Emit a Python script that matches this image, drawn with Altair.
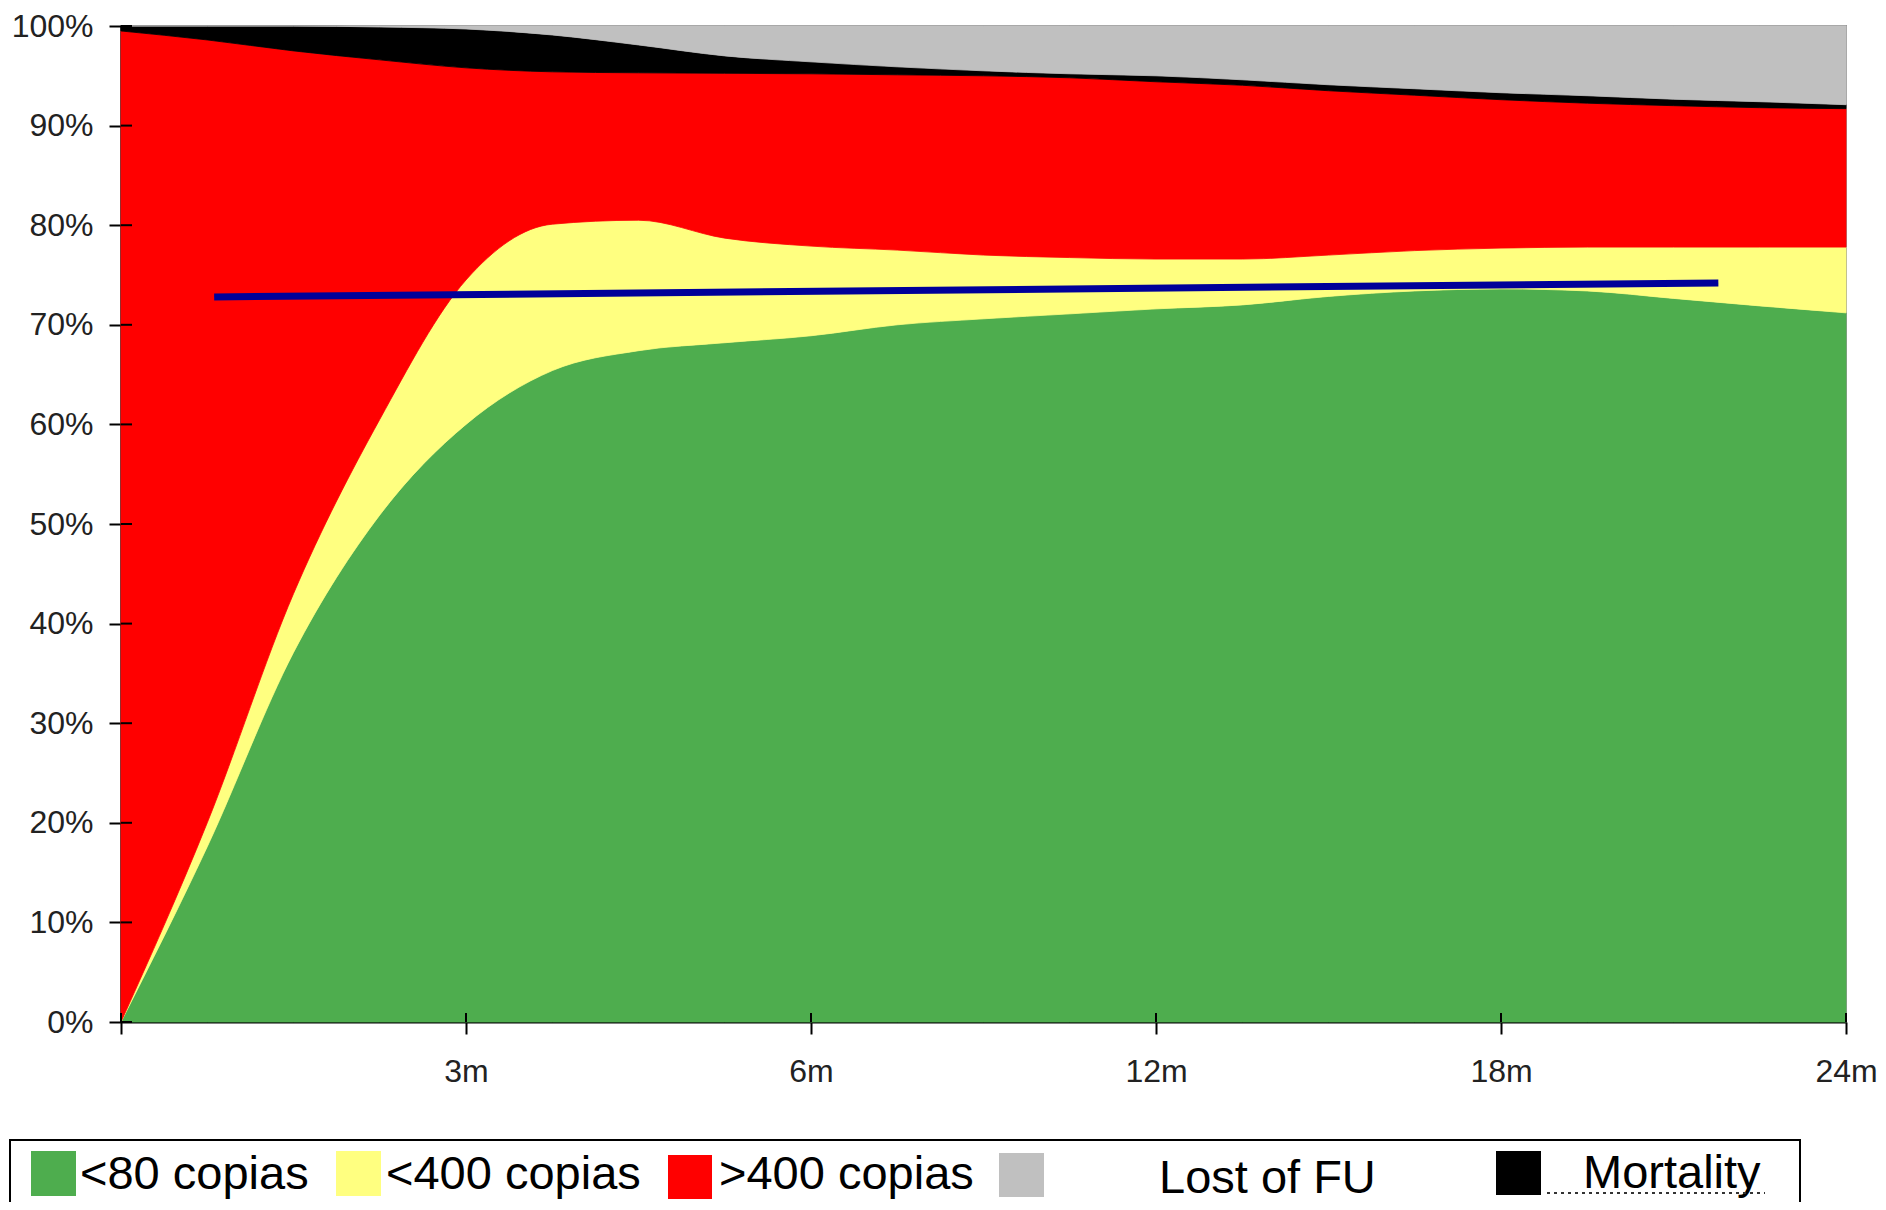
import json
import pandas as pd
import altair as alt

# x positions (equally spaced ticks: 0, 3m, 6m, 12m, 18m, 24m -> 0..5)
pos = [0, 0.25, 0.5, 0.75, 1, 1.25, 1.5, 1.75, 2, 2.25, 2.5, 2.75, 3,
       3.25, 3.5, 3.75, 4, 4.25, 4.5, 4.75, 5]
tick_pos = [0, 1, 2, 3, 4, 5]
tick_labels = ["", "3m", "6m", "12m", "18m", "24m"]
y_ticks = [0, 10, 20, 30, 40, 50, 60, 70, 80, 90, 100]

# band heights (%), bottom to top
green = [0, 17.6, 37.1, 50.9, 60.0, 65.4, 67.4, 68.2, 68.9, 70.0, 70.6, 71.1, 71.6,
         72.0, 72.85, 73.4, 73.6, 73.4, 72.65, 71.9, 71.2]
yellow = [0, 2.4, 5.9, 9.6, 14.5, 14.7, 13.1, 10.5, 9.0, 7.5, 6.4, 5.65, 5.0,
          4.6, 4.15, 4.05, 4.1, 4.4, 5.15, 5.9, 6.6]
red = [99.5, 78.6, 54.5, 36.1, 21.3, 15.3, 14.8, 16.55, 17.3, 17.6, 18.0, 18.05, 17.8,
       17.45, 16.5, 15.6, 14.9, 14.45, 14.2, 14.0, 13.9]
black = [0.5, 1.4, 2.5, 3.3, 3.9, 3.7, 2.8, 1.75, 1.2, 0.8, 0.5, 0.4, 0.6,
         0.55, 0.6, 0.65, 0.7, 0.75, 0.65, 0.6, 0.4]
gray = [0, 0, 0, 0.1, 0.3, 0.9, 1.9, 3.0, 3.6, 4.1, 4.5, 4.8, 5.0,
        5.4, 5.9, 6.3, 6.7, 7.0, 7.35, 7.6, 7.9]

series = ["<80 copias", "<400 copias", ">400 copias", "Mortality", "Lost of FU"]
colors = ["#4EAD4E", "#FFFF80", "#FF0000", "#000000", "#C0C0C0"]

# blue reference line
line_x = [0.27, 4.63]
line_y = [72.8, 74.2]

FONT = "Liberation Sans"
W, H = 1725, 996

rows = []
for k, (name, vals) in enumerate(zip(series, [green, yellow, red, black, gray])):
    for p, v in zip(pos, vals):
        rows.append({"p": p, "value": v, "series": name, "k": k})
df = pd.DataFrame(rows)

x_axis = alt.Axis(values=tick_pos,
                  labelExpr=json.dumps(tick_labels) + "[datum.value]",
                  title=None, grid=False, labelFlush=False, tickSize=12,
                  labelPadding=22, labelFontSize=32, labelFont=FONT,
                  labelColor="#222222", domainColor="#000000", domainWidth=2,
                  tickColor="#000000", tickWidth=2)
y_axis = alt.Axis(values=y_ticks,
                  labelExpr="datum.value + '%'",
                  title=None, grid=False, tickSize=12, labelPadding=16,
                  labelFontSize=32, labelFont=FONT, labelColor="#222222",
                  domainColor="#000000", domainWidth=2, tickColor="#000000",
                  tickWidth=2)

area = alt.Chart(df).mark_area(interpolate="monotone", strokeWidth=0.8).encode(
    x=alt.X("p:Q", scale=alt.Scale(domain=[0, 5], nice=False, zero=False), axis=x_axis),
    y=alt.Y("value:Q", stack="zero", scale=alt.Scale(domain=[0, 100], nice=False), axis=y_axis),
    color=alt.Color("series:N", scale=alt.Scale(domain=series, range=colors), legend=None),
    stroke=alt.Stroke("series:N", scale=alt.Scale(domain=series, range=colors), legend=None),
    order=alt.Order("k:Q", sort="ascending"),
)

line_df = pd.DataFrame({"p": line_x, "value": line_y})
line = alt.Chart(line_df).mark_line(color="#000099", strokeWidth=7, strokeCap="butt").encode(
    x=alt.X("p:Q"), y=alt.Y("value:Q")
)

# inner parts of the tick marks (ticks cross the axis lines)
xt = alt.Chart(pd.DataFrame({"p": tick_pos})).mark_rule(color="#000000", strokeWidth=2).encode(
    x=alt.X("p:Q"), y=alt.value(H - 9), y2=alt.value(H)
)
yt = alt.Chart(pd.DataFrame({"value": y_ticks})).mark_rule(color="#000000", strokeWidth=2).encode(
    y=alt.Y("value:Q"), x=alt.value(0), x2=alt.value(11)
)

# ---- custom legend (pixel positions relative to plot origin) ----
layers = [area, line, xt, yt]
one = alt.Data(values=[{"a": 1}])
layers.append(
    alt.Chart(one).mark_rect(filled=False, stroke="#000000", strokeWidth=2).encode(
        x=alt.value(-111), x2=alt.value(1679), y=alt.value(1114), y2=alt.value(1214)
    )
)

sw_pos = [(-90, -45, 1125, 1170), (215, 260, 1125, 1170), (547, 591, 1129, 1173),
          (878, 923, 1127, 1171), (1375, 1420, 1125, 1169)]
legend_order = [0, 1, 2, 4, 3]  # green, yellow, red, gray, black
txt_pos = [(-41, 1163), (265, 1163), (598, 1163), (1038, 1167), (1462, 1162)]

for (x1, x2, y1, y2), idx, (tx, ty) in zip(sw_pos, legend_order, txt_pos):
    layers.append(
        alt.Chart(one).mark_rect(color=colors[idx]).encode(
            x=alt.value(x1), x2=alt.value(x2), y=alt.value(y1), y2=alt.value(y2)
        )
    )
    layers.append(
        alt.Chart(alt.Data(values=[{"label": series[idx]}])).mark_text(
            align="left", baseline="alphabetic", fontSize=47, font=FONT, color="#000000"
        ).encode(x=alt.value(tx), y=alt.value(ty), text=alt.Text("label:N"))
    )

layers.append(
    alt.Chart(one).mark_rule(color="#333333", strokeWidth=2, strokeDash=[3, 4]).encode(
        x=alt.value(1426), x2=alt.value(1644), y=alt.value(1167)
    )
)

chart = alt.layer(*layers).properties(
    width=W, height=H,
    padding={"left": 113, "top": 18, "right": 32, "bottom": 180},
    autosize=alt.AutoSizeParams(type="none"),
).configure_view(stroke="#999999", strokeWidth=2)

chart.save("out.html", embed_options={"renderer": "svg", "actions": False})
